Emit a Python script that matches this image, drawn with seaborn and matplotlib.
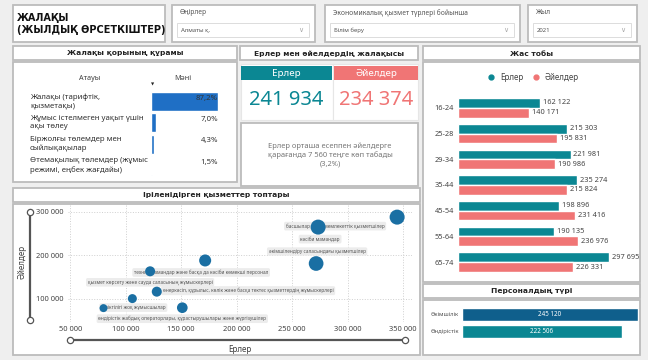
import matplotlib
matplotlib.use("Agg")
import matplotlib.pyplot as plt
from matplotlib.patches import Rectangle
from matplotlib.lines import Line2D
import pandas as pd
import seaborn as sns

# ---- data ---- #
fund_items = [
    "Жалақы (тарифтік,\nқызметақы)",
    "Жұмыс істелмеген уақыт үшін\nақы төлеу",
    "Біржолғы төлемдер мен\nсыйлықақылар",
    "Өтемақылық төлемдер (жұмыс\nрежимі, еңбек жағдайы)",
]
fund_share = [87.2, 7.0, 4.3, 1.5]

wage_men = 241934
wage_women = 234374

age_groups = ["16-24", "25-28", "29-34", "35-44", "45-54", "55-64", "65-74"]
age_men = [162122, 215303, 221981, 235274, 198896, 190135, 297695]
age_women = [140171, 195831, 190986, 215824, 231416, 236976, 226331]

staff_types = ["Әкімшілік", "Өндірістік"]
staff_wage = [245120, 222506]

occ_labels = [
    "басшылар және мемлекеттік қызметшілер",
    "кәсіби мамандар",
    "әкімшілендіру саласындағы қызметшілер",
    "техник мамандар және басқа да кәсіби көмекші персонал",
    "қызмет көрсету және сауда саласының жұмыскерлері",
    "өнеркәсіп, құрылыс, көлік және басқа тектес қызметтердің жұмыскерлері",
    "біліктілігі жоқ жұмысшылар",
    "",
    "өндірістік жабдық операторлары, құрастырушылары және жүргізушілер",
]
occ_men = [344600, 273400, 271600, 171600, 122000, 128000, 106000, 80000, 151000]
occ_women = [288000, 265000, 181000, 188000, 163000, 116000, 100000, 78000, 79000]
occ_weight = [117, 117, 112, 75, 52, 52, 42, 33, 59]

# ---- style ---- #
TEAL = "#0b8793"
SALMON = "#f07575"
BLUE = "#1f6fc5"
DOT = "#1a6fa3"
NAVY = "#0f5f8c"
GREY_TXT = "#404040"
BOLD = ["DejaVu Sans"]

sns.set_theme(style="white")
plt.rcParams["font.family"] = ["Noto Sans", "DejaVu Sans"]

W, H = 648, 360
fig = plt.figure(figsize=(W / 100, H / 100), dpi=100)
fig.patch.set_facecolor("#efefef")


def px_axes(x, y, w, h):
    ax = fig.add_axes([x / W, 1 - (y + h) / H, w / W, h / H])
    ax.set_facecolor("none")
    return ax


def box(x, y, w, h, fc="white", ec="#bcbcbc", lw=1.3):
    fig.patches.append(Rectangle((x / W, 1 - (y + h) / H), w / W, h / H,
                                 transform=fig.transFigure, fc=fc, ec=ec,
                                 lw=lw, zorder=-5))


def ftext(x, y, s, **kw):
    kw.setdefault("color", GREY_TXT)
    return fig.text(x / W, 1 - y / H, s, **kw)


def fmt(v):
    return f"{v:,}".replace(",", " ")


# ---- top row: title + slicers ---- #
box(13, 5, 152, 37)
ftext(17, 24, "ЖАЛАҚЫ\n(ЖЫЛДЫҚ ӨРСЕТКІШТЕР)", fontsize=7.0, weight="bold",
      family=BOLD, color="#111", va="center", linespacing=1.2)

slicers = [(172, 143, "Өңірлер", "Алматы қ."),
           (325, 195, "Экономикалық қызмет түрлері бойынша", "Білім беру"),
           (528, 109, "Жыл", "2021")]
for sx, sw, title, value in slicers:
    box(sx, 5, sw, 37)
    ftext(sx + 8, 13, title, fontsize=4.8, va="center", color="#555")
    box(sx + 5, 23, sw - 11, 14, ec="#dcdcdc", lw=0.7)
    ftext(sx + 9, 30, value, fontsize=4.3, va="center", color="#555")
    ftext(sx + sw - 14, 30, "∨", fontsize=5, va="center", ha="center", color="#aaa")

# ---- section headers ---- #
headers = [(13, 46, 224, "Жалақы қорының құрамы"),
           (240, 46, 178, "Ерлер мен әйелдердің жалақысы"),
           (423, 46, 217, "Жас тобы"),
           (13, 188, 407, "Іріленідірген қызметтер топтары"),
           (423, 284, 217, "Персоналдың түрі")]
for hx, hy, hw, label in headers:
    box(hx, hy, hw, 14)
    ftext(hx + hw / 2, hy + 7.5, label, fontsize=5.4, weight="bold",
          family=BOLD, ha="center", va="center", color="#222")

# ---- wage fund table ---- #
box(13, 62, 224, 120)
ftext(90, 78, "Атауы", fontsize=5.2, ha="center", va="center")
ftext(183, 78, "Мәні", fontsize=5.2, ha="center", va="center")
ftext(153, 85, "▼", fontsize=3, ha="center", va="center", color="#222")

ax_t = px_axes(151, 91, 67, 85)
fund_df = pd.DataFrame({"item": fund_items, "share": fund_share})
sns.barplot(data=fund_df, x="share", y="item", orient="h", color=BLUE,
            width=0.9, saturation=1, ax=ax_t)
ax_t.set_xlim(0, max(fund_share))
ax_t.axis("off")
tr = ax_t.get_yaxis_transform()
for i, (name, val) in enumerate(zip(fund_items, fund_share)):
    ax_t.text((30 - 151) / 67, i, name, transform=tr, fontsize=5.6,
              va="center", ha="left", color="#333", linespacing=1.25)
    ax_t.text(1.0, i - 0.15, f"{val:.1f}%".replace(".", ","), transform=tr,
              fontsize=5.6, va="center", ha="right", color="#333")

# ---- men / women cards ---- #
box(241, 64, 92, 56, ec="#e6e6e6", lw=0.8)
box(333, 64, 85, 56, ec="#e6e6e6", lw=0.8)
box(241, 66, 91, 14, fc=TEAL, ec="none")
box(334, 66, 84, 14, fc=SALMON, ec="none")
ftext(286.5, 73, "Ерлер", fontsize=7, color="white", ha="center", va="center")
ftext(376, 73, "Әйелдер", fontsize=7, color="white", ha="center", va="center")
ftext(286.5, 100, fmt(wage_men), fontsize=14.5, color=TEAL, ha="center", va="center")
ftext(376, 100, fmt(wage_women), fontsize=14.5, color=SALMON, ha="center", va="center")

diff = wage_men - wage_women
pct = diff / wage_women * 100
box(241, 123, 177, 63)
ftext(330, 155,
      f"Ерлер орташа есеппен әйелдерге\nқарағанда {fmt(diff)} теңге көп табады\n"
      f"({pct:.1f}%)".replace(".", ","),
      fontsize=5.4, color="#777", ha="center", va="center", linespacing=1.3)

# ---- age groups ---- #
box(423, 62, 217, 220)
age_df = pd.DataFrame({
    "age": age_groups * 2,
    "wage": age_men + age_women,
    "sex": ["Ерлер"] * len(age_groups) + ["Әйелдер"] * len(age_groups),
})
ax_a = px_axes(458, 95, 175, 180)
sns.barplot(data=age_df, x="wage", y="age", hue="sex", orient="h",
            palette=[TEAL, SALMON], width=0.76, saturation=1, ax=ax_a,
            legend=False)
ax_a.set_xlim(0, 345000)
for cont in ax_a.containers:
    ax_a.bar_label(cont, labels=[fmt(int(b.get_width())) for b in cont],
                   padding=2, fontsize=5.3, color="#444")
ax_a.set_xticks([])
ax_a.set_xlabel("")
ax_a.set_ylabel("")
ax_a.tick_params(axis="y", labelsize=5.3, colors="#444", length=0, pad=3)
sns.despine(ax=ax_a, left=True, bottom=True)
handles = [Line2D([], [], marker="o", ls="", color=c, markersize=3.5)
           for c in (TEAL, SALMON)]
fig.legend(handles, ["Ерлер", "Әйелдер"], loc="center",
           bbox_to_anchor=(531 / W, 1 - 77 / H), ncol=2, frameon=False,
           fontsize=5.8, handletextpad=0.1, columnspacing=0.5,
           labelcolor="#444")

# ---- personnel type ---- #
box(423, 300, 217, 55)
ax_p = px_axes(462, 306, 177, 34)
staff_df = pd.DataFrame({"type": staff_types, "wage": staff_wage})
sns.barplot(data=staff_df, x="wage", y="type", hue="type", orient="h",
            palette=[NAVY, TEAL], width=0.78, saturation=1, ax=ax_p, legend=False)
ax_p.set_xlim(0, max(staff_wage) * 1.005)
for cont in ax_p.containers:
    ax_p.bar_label(cont, labels=[fmt(int(b.get_width())) for b in cont],
                   label_type="center", fontsize=4.5, color="white")
ax_p.set_xticks([])
ax_p.set_xlabel("")
ax_p.set_ylabel("")
ax_p.tick_params(axis="y", labelsize=4.2, colors="#555", length=0, pad=2)
sns.despine(ax=ax_p, left=True, bottom=True)

# ---- occupation scatter ---- #
box(13, 204, 407, 151)
occ_df = pd.DataFrame({"men": occ_men, "women": occ_women,
                       "weight": occ_weight, "label": occ_labels})
ax_s = px_axes(68, 205, 344, 117)
ax_s.grid(True, ls=":", color="#cfcfcf", lw=0.7)
sns.scatterplot(data=occ_df, x="men", y="women", size="weight",
                sizes=(33, 117), size_norm=(min(occ_weight), max(occ_weight)),
                color=DOT, edgecolor="none", alpha=1, legend=False, ax=ax_s,
                zorder=3)
ax_s.set_xlim(48000, 358000)
ax_s.set_ylim(46000, 316000)
xt = list(range(50000, 350001, 50000))
yt = [100000, 200000, 300000]
ax_s.set_xticks(xt)
ax_s.set_yticks(yt)
ax_s.set_xticklabels([fmt(v) for v in xt])
ax_s.set_yticklabels([fmt(v) for v in yt])
ax_s.tick_params(labelsize=5.4, colors="#444", length=0, pad=3)
ax_s.set_xlabel("")
ax_s.set_ylabel("")
sns.despine(ax=ax_s, left=True, bottom=True)

# label offsets in pixels (dx, dy) and alignment for each point
offsets = [(-62, -9, "center"), (2, -12, "center"), (1, 12, "center"),
           (-4, -12, "center"), (0, -11, "center"), (6, 1, "left"),
           (1, -9, "center"), (0, 0, "center"), (0, -11, "center")]
for (mx, wy, lab), (dx, dy, ha) in zip(zip(occ_men, occ_women, occ_labels), offsets):
    if not lab:
        continue
    ax_s.annotate(lab, (mx, wy), xytext=(dx, dy), textcoords="offset pixels",
                  fontsize=3.4, color="#555", ha=ha, va="center", zorder=2,
                  bbox=dict(boxstyle="round,pad=0.35", fc="#ececec", ec="none"))

# range sliders
for xs, ys in (([30, 30], [212, 320]), ([70, 405], [340, 340])):
    fig.add_artist(Line2D([x / W for x in xs], [1 - y / H for y in ys],
                          color="#555", lw=1.6, marker="o", markersize=4.5,
                          markerfacecolor="white", markeredgecolor="#555",
                          markeredgewidth=0.9, transform=fig.transFigure))
ftext(22, 262, "Әйелдер", fontsize=5.8, rotation=90, ha="center", va="center")
ftext(240, 350, "Ерлер", fontsize=5.8, ha="center", va="center")

fig.savefig("out.png", dpi=100)
